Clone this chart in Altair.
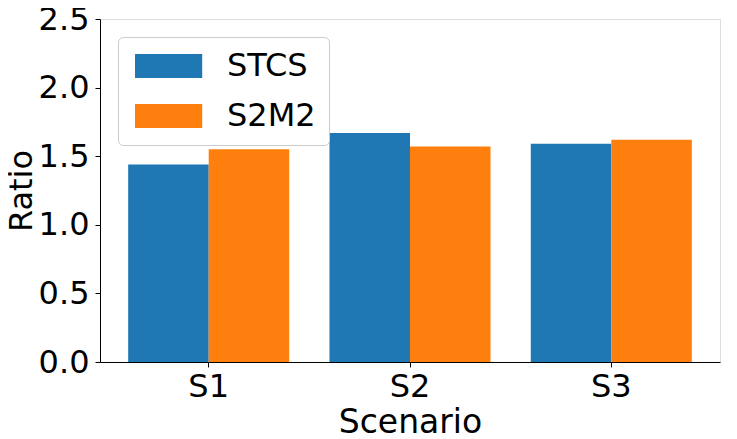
import altair as alt
import pandas as pd

scenarios = ["S1", "S2", "S3"]
series = ["STCS", "S2M2"]
stcs = [1.44, 1.67, 1.59]
s2m2 = [1.55, 1.57, 1.62]
colors = ["#1f77b4", "#ff7f0e"]
y_ticks = [0.0, 0.5, 1.0, 1.5, 2.0, 2.5]

rows = []
for i, sc in enumerate(scenarios):
    rows.append({"Scenario": sc, "Series": "STCS", "Ratio": stcs[i]})
    rows.append({"Scenario": sc, "Series": "S2M2", "Ratio": s2m2[i]})
df = pd.DataFrame(rows)

FONT = "DejaVu Sans"

chart = (
    alt.Chart(df)
    .mark_bar()
    .encode(
        x=alt.X(
            "Scenario:N",
            sort=scenarios,
            scale=alt.Scale(paddingInner=0.2, paddingOuter=0.14),
            axis=alt.Axis(
                title="Scenario",
                labelAngle=0,
                labelFontSize=32,
                titleFontSize=33,
                labelPadding=4,
                titlePadding=4,
                tickSize=5,
                tickColor="black",
                domainColor="black",
                labelColor="black",
                titleColor="black",
                titleFontWeight="normal",
                labelFont=FONT,
                titleFont=FONT,
            ),
        ),
        xOffset=alt.XOffset(
            "Series:N", sort=series, scale=alt.Scale(paddingInner=0, paddingOuter=0)
        ),
        y=alt.Y(
            "Ratio:Q",
            scale=alt.Scale(domain=[0, 2.5], nice=False),
            axis=alt.Axis(
                title="Ratio",
                values=y_ticks,
                format=".1f",
                grid=False,
                labelFontSize=32,
                titleFontSize=32,
                labelPadding=6,
                titlePadding=0,
                tickSize=5,
                tickColor="black",
                domainColor="black",
                labelColor="black",
                titleColor="black",
                titleFontWeight="normal",
                labelFont=FONT,
                titleFont=FONT,
            ),
        ),
        color=alt.Color(
            "Series:N",
            sort=series,
            scale=alt.Scale(domain=series, range=colors),
            legend=alt.Legend(
                title=None,
                orient="top-left",
                offset=18,
                padding=13,
                strokeColor="#cccccc",
                fillColor="white",
                cornerRadius=5,
                symbolType="M-1,-1L4.6,-1L4.6,1L-1,1Z",
                symbolSize=576,
                symbolStrokeWidth=0,
                symbolOpacity=1,
                labelFontSize=32,
                labelFont=FONT,
                labelColor="black",
                labelOffset=64,
                rowPadding=18,
                labelLimit=300,
            ),
        ),
    )
    .properties(
        width=620,
        height=343,
        autosize=alt.AutoSizeParams(type="none"),
        padding={"left": 92, "top": 11, "right": 9, "bottom": 77},
    )
    .configure_view(stroke="black", strokeWidth=1)
    .configure(font=FONT)
)

chart.save("out.html", embed_options={"renderer": "svg", "actions": False})
